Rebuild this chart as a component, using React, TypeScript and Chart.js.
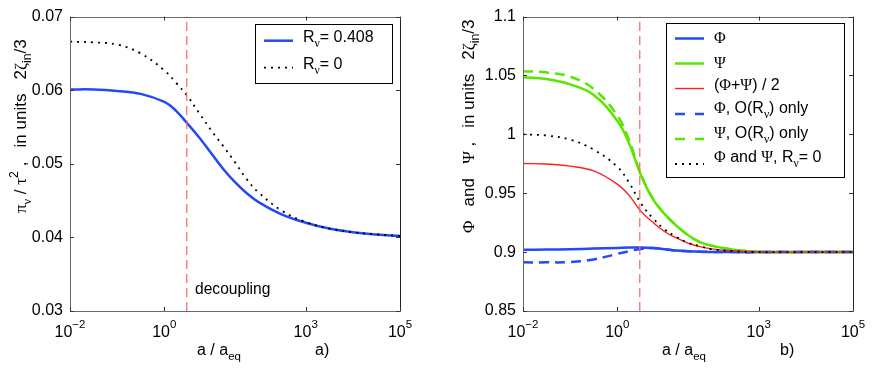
import React, { useEffect, useRef } from "react";
import { Chart, registerables } from "chart.js";
Chart.register(...registerables);

// ---------- data ----------
const aOverAeq = [0.01, 0.0316, 0.1, 0.316, 1, 1.78, 3.16, 5.62, 10, 17.8, 31.6, 56.2, 100, 316, 1000, 3162, 10000, 31623, 100000];

// panel a)
const piNuR408 = [0.0601, 0.0601, 0.0599, 0.0595, 0.0584, 0.0572, 0.0554, 0.0535, 0.0514, 0.0493, 0.0475, 0.0460, 0.0448, 0.0431, 0.0420, 0.0412, 0.0407, 0.0404, 0.0402];
const piNuR0 = [0.0666, 0.0665, 0.0662, 0.0650, 0.0627, 0.0610, 0.0591, 0.0568, 0.0545, 0.0524, 0.0502, 0.0479, 0.0461, 0.0436, 0.0421, 0.0412, 0.0407, 0.0404, 0.0402];

// panel b)
const phi = [0.9020, 0.9022, 0.9025, 0.9030, 0.9036, 0.9039, 0.9040, 0.9035, 0.9025, 0.9014, 0.9008, 0.9004, 0.9002, 0.9000, 0.9000, 0.9, 0.9, 0.9, 0.9];
const psi = [1.0486, 1.0470, 1.0425, 1.0335, 1.0115, 0.9925, 0.9655, 0.9455, 0.9325, 0.9225, 0.9145, 0.9085, 0.9055, 0.9018, 0.9002, 0.9, 0.9, 0.9, 0.9];
const phiPsiMean = [0.9752, 0.9748, 0.9730, 0.9690, 0.9578, 0.9482, 0.9348, 0.9255, 0.9175, 0.9120, 0.9077, 0.9047, 0.9028, 0.9009, 0.9001, 0.9, 0.9, 0.9, 0.9];
const phiORnu = [0.8913, 0.8913, 0.8916, 0.8938, 0.8985, 0.9008, 0.9027, 0.9035, 0.9025, 0.9014, 0.9008, 0.9004, 0.9002, 0.9000, 0.9000, 0.9, 0.9, 0.9, 0.9];
const psiORnu = [1.0537, 1.0525, 1.0490, 1.0385, 1.0160, 0.9950, 0.9665, 0.9458, 0.9326, 0.9225, 0.9145, 0.9085, 0.9055, 0.9018, 0.9002, 0.9, 0.9, 0.9, 0.9];
const phiPsiR0 = [1.0000, 0.9990, 0.9955, 0.9870, 0.9725, 0.9590, 0.9415, 0.9290, 0.9195, 0.9130, 0.9080, 0.9050, 0.9025, 0.9008, 0.9000, 0.9, 0.9, 0.9, 0.9];

const aDecoupling = 3.0;

// axes
const xMin = 0.01;
const xMax = 100000;
const xTickValues = [0.01, 1, 1000, 100000];
const xTickExponents = ["\u22122", "0", "3", "5"];
const leftYTicks = [0.03, 0.04, 0.05, 0.06, 0.07];
const rightYTicks = [0.85, 0.9, 0.95, 1, 1.05, 1.1];

// text
const leftYTitle = "π_{ν} / τ^{2} ,   in units   2ζ_{in}/3";
const rightYTitle = "Φ   and   Ψ ,   in units   2ζ_{in}/3";
const xTitle = "a / a_{eq}";
const leftPanelTag = "a)";
const rightPanelTag = "b)";
const decouplingLabel = "decoupling";
const leftLegendLabels = ["R_{ν}= 0.408", "R_{ν}= 0"];
const rightLegendLabels = ["Φ", "Ψ", "(Φ+Ψ) / 2", "Φ, O(R_{ν}) only", "Ψ, O(R_{ν}) only", "Φ and Ψ, R_{ν}= 0"];

// ---------- styling ----------
const SANS = '"Liberation Sans", Arial, Helvetica, sans-serif';
const SERIF = '"Liberation Serif", "Times New Roman", serif';
const BLUE = "#2449f5";
const GREEN = "#5ae600";
const RED = "#ff1f1f";
const VRED = "#ff6464";
const DOT = [2, 5];
const DASH = [10, 6];

type Seg = { t: string; mode: number };
function parseRich(s: string): Seg[] {
  const out: Seg[] = [];
  let i = 0;
  let buf = "";
  const flush = () => {
    if (buf) { out.push({ t: buf, mode: 0 }); buf = ""; }
  };
  while (i < s.length) {
    const c = s[i];
    if ((c === "_" || c === "^") && i + 1 < s.length) {
      flush();
      const mode = c === "_" ? 1 : -1;
      let t = "";
      if (s[i + 1] === "{") {
        const j = s.indexOf("}", i + 2);
        t = s.slice(i + 2, j);
        i = j + 1;
      } else {
        t = s[i + 1];
        i += 2;
      }
      out.push({ t, mode });
    } else {
      buf += c;
      i++;
    }
  }
  flush();
  return out;
}
function runs(t: string): string[] {
  return t.match(/[\u0370-\u03FF]+|[^\u0370-\u03FF]+/g) || [];
}
function drawRich(ctx: CanvasRenderingContext2D, text: string, x: number, y: number, size: number, draw = true): number {
  let cx = x;
  for (const seg of parseRich(text)) {
    const fs = seg.mode === 0 ? size : size * 0.72;
    const dy = seg.mode === 1 ? size * 0.32 : seg.mode === -1 ? -size * 0.45 : 0;
    for (const r of runs(seg.t)) {
      const greek = /[\u0370-\u03FF]/.test(r);
      ctx.font = `${fs}px ${greek ? SERIF : SANS}`;
      if (draw) ctx.fillText(r, cx, y + dy);
      cx += ctx.measureText(r).width;
    }
  }
  return cx - x;
}

type LegendItem = { label: string; color: string; width: number; dash: number[]; lineY: number; dy: number };
type Decor = {
  yTitle: { text: string; x: number; yBottom: number; size: number };
  xTitle: { text: string; x: number; y: number };
  tag: { text: string; x: number; y: number };
  note?: { text: string; x: number; y: number; size: number };
  legend: { box: number[]; lineX: number[]; textX: number; items: LegendItem[] };
};

function makeDecor(cfg: Decor) {
  return {
    id: "decor",
    afterDraw(chart: any) {
      const ctx: CanvasRenderingContext2D = chart.ctx;
      const { left, right, top, bottom } = chart.chartArea;
      const xs = chart.scales.x;
      const ys = chart.scales.y;
      ctx.save();
      // box
      ctx.lineWidth = 1;
      ctx.strokeStyle = "#6a6a6a";
      ctx.beginPath();
      ctx.moveTo(Math.round(right) + 0.5, Math.round(top) + 0.5);
      ctx.lineTo(Math.round(left) + 0.5, Math.round(top) + 0.5);
      ctx.lineTo(Math.round(left) + 0.5, Math.round(bottom) + 0.5);
      ctx.lineTo(Math.round(right) + 0.5, Math.round(bottom) + 0.5);
      ctx.stroke();
      ctx.strokeStyle = "#222";
      ctx.beginPath();
      ctx.moveTo(Math.round(right) + 0.5, Math.round(top) + 0.5);
      ctx.lineTo(Math.round(right) + 0.5, Math.round(bottom) + 0.5);
      ctx.stroke();
      // ticks
      ctx.strokeStyle = "#333";
      const tl = 4;
      for (const t of ys.ticks) {
        const py = Math.round(ys.getPixelForValue(t.value)) + 0.5;
        ctx.beginPath();
        ctx.moveTo(left, py); ctx.lineTo(left + tl, py);
        ctx.moveTo(right, py); ctx.lineTo(right - tl, py);
        ctx.stroke();
      }
      for (const v of xTickValues) {
        const px = Math.round(xs.getPixelForValue(v)) + 0.5;
        ctx.beginPath();
        ctx.moveTo(px, bottom); ctx.lineTo(px, bottom - tl);
        ctx.moveTo(px, top); ctx.lineTo(px, top + tl);
        ctx.stroke();
      }
      // x tick labels
      ctx.fillStyle = "#000";
      ctx.textBaseline = "alphabetic";
      ctx.textAlign = "left";
      xTickValues.forEach((v, i) => {
        const px = xs.getPixelForValue(v);
        const lab = "10^{" + xTickExponents[i] + "}";
        const w = drawRich(ctx, lab, 0, 0, 16, false);
        ctx.font = `16px ${SANS}`;
        const x0 = px - w / 2;
        ctx.fillText("10", x0, bottom + 26);
        const w10 = ctx.measureText("10").width;
        ctx.font = `11.5px ${SANS}`;
        ctx.fillText(xTickExponents[i], x0 + w10, bottom + 17);
      });
      // titles
      drawRich(ctx, cfg.xTitle.text, cfg.xTitle.x, cfg.xTitle.y, 16);
      drawRich(ctx, cfg.tag.text, cfg.tag.x, cfg.tag.y, 16);
      if (cfg.note) drawRich(ctx, cfg.note.text, cfg.note.x, cfg.note.y, cfg.note.size);
      ctx.save();
      ctx.translate(cfg.yTitle.x, cfg.yTitle.yBottom);
      ctx.rotate(-Math.PI / 2);
      drawRich(ctx, cfg.yTitle.text, 0, 0, cfg.yTitle.size);
      ctx.restore();
      // legend
      const [bx1, by1, bx2, by2] = cfg.legend.box;
      ctx.fillStyle = "#fff";
      ctx.fillRect(bx1, by1, bx2 - bx1, by2 - by1);
      ctx.strokeStyle = "#000";
      ctx.lineWidth = 1;
      ctx.setLineDash([]);
      ctx.strokeRect(bx1 + 0.5, by1 + 0.5, bx2 - bx1, by2 - by1);
      for (const it of cfg.legend.items) {
        ctx.strokeStyle = it.color;
        ctx.lineWidth = it.width;
        ctx.setLineDash(it.dash);
        ctx.beginPath();
        ctx.moveTo(cfg.legend.lineX[0], it.lineY);
        ctx.lineTo(cfg.legend.lineX[1], it.lineY);
        ctx.stroke();
        ctx.setLineDash([]);
        ctx.fillStyle = "#000";
        drawRich(ctx, it.label, cfg.legend.textX, it.lineY + it.dy, 16);
      }
      ctx.restore();
    },
  };
}

function line(xsArr: number[], ys: number[], color: string, width: number, dash: number[] = [], smooth = true) {
  return {
    data: xsArr.map((x, i) => ({ x, y: ys[i] })),
    borderColor: color,
    borderWidth: width,
    borderDash: dash,
    pointRadius: 0,
    fill: false,
    tension: smooth ? 0.4 : 0,
  };
}

function buildConfig(datasets: any[], yMin: number, yMax: number, yTicks: number[], padRight: number, yWidth: number, decor: Decor) {
  return {
    type: "line" as const,
    data: { datasets },
    options: {
      responsive: false,
      animation: false as const,
      devicePixelRatio: 1,
      layout: { padding: { top: 15, right: padRight, bottom: 0, left: 0 } },
      plugins: { legend: { display: false }, tooltip: { enabled: false } },
      scales: {
        x: {
          type: "logarithmic" as const,
          min: xMin,
          max: xMax,
          ticks: { display: false },
          grid: { display: false, drawTicks: false },
          border: { display: false },
          afterFit: (s: any) => { s.height = 59; },
        },
        y: {
          type: "linear" as const,
          min: yMin,
          max: yMax,
          afterBuildTicks: (s: any) => { s.ticks = yTicks.map((v) => ({ value: v })); },
          ticks: {
            color: "#000",
            padding: 7,
            font: { family: SANS, size: 16 },
            callback: (v: any) => String(parseFloat(Number(v).toFixed(4))),
          },
          grid: { display: false, drawTicks: false },
          border: { display: false },
          afterFit: (s: any) => { s.width = yWidth; },
        },
      },
    },
    plugins: [makeDecor(decor)],
  };
}

function Panel({ make }: { make: () => any }) {
  const ref = useRef<HTMLCanvasElement>(null);
  useEffect(() => {
    const chart = new Chart(ref.current as HTMLCanvasElement, make());
    return () => chart.destroy();
  }, []);
  return <canvas ref={ref} width={436} height={370} style={{ display: "block", width: 436, height: 370 }} />;
}

export default function App() {
  const makeLeft = () => {
    const ds = [
      line([aDecoupling, aDecoupling], [0.03, 0.07], VRED, 1.2, [9, 5], false),
      line(aOverAeq, piNuR0, "#000", 1.8, DOT),
      line(aOverAeq, piNuR408, BLUE, 2.5),
    ];
    return buildConfig(ds, 0.03, 0.07, leftYTicks, 36, 70, {
      yTitle: { text: leftYTitle, x: 26, yBottom: 213, size: 17 },
      xTitle: { text: xTitle, x: 197, y: 355 },
      tag: { text: leftPanelTag, x: 315, y: 355 },
      note: { text: decouplingLabel, x: 195, y: 294, size: 15.6 },
      legend: {
        box: [255, 24, 392, 83],
        lineX: [264, 293],
        textX: 303,
        items: [
          { label: leftLegendLabels[0], color: BLUE, width: 2.5, dash: [], lineY: 40.7, dy: 1 },
          { label: leftLegendLabels[1], color: "#000", width: 1.8, dash: DOT, lineY: 67.7, dy: 1 },
        ],
      },
    });
  };
  const makeRight = () => {
    const ds = [
      line([aDecoupling, aDecoupling], [0.85, 1.1], VRED, 1.2, [9, 5], false),
      line(aOverAeq, phiPsiR0, "#000", 1.8, DOT),
      line(aOverAeq, phiPsiMean, RED, 1.4),
      line(aOverAeq, phiORnu, BLUE, 2.5, DASH),
      line(aOverAeq, psiORnu, GREEN, 2.5, DASH),
      line(aOverAeq, phi, BLUE, 2.5),
      line(aOverAeq, psi, GREEN, 2.5),
    ];
    return buildConfig(ds, 0.85, 1.1, rightYTicks, 19, 87, {
      yTitle: { text: rightYTitle, x: 38, yBottom: 233, size: 17 },
      xTitle: { text: xTitle, x: 226, y: 355 },
      tag: { text: rightPanelTag, x: 344, y: 355 },
      legend: {
        box: [230, 23, 408, 177],
        lineX: [239, 268],
        textX: 278,
        items: [
          { label: rightLegendLabels[0], color: BLUE, width: 2.5, dash: [], lineY: 38.5, dy: 4.5 },
          { label: rightLegendLabels[1], color: GREEN, width: 2.5, dash: [], lineY: 63.5, dy: 4.5 },
          { label: rightLegendLabels[2], color: RED, width: 1.4, dash: [], lineY: 88.5, dy: 1.5 },
          { label: rightLegendLabels[3], color: BLUE, width: 2.5, dash: [10, 10], lineY: 114, dy: -1 },
          { label: rightLegendLabels[4], color: GREEN, width: 2.5, dash: [10, 10], lineY: 139, dy: -1 },
          { label: rightLegendLabels[5], color: "#000", width: 1.8, dash: DOT, lineY: 164, dy: -2 },
        ],
      },
    });
  };
  return (
    <div style={{ position: "absolute", left: 0, top: 0, width: 872, height: 370, display: "flex", background: "#fff" }}>
      <Panel make={makeLeft} />
      <Panel make={makeRight} />
    </div>
  );
}
